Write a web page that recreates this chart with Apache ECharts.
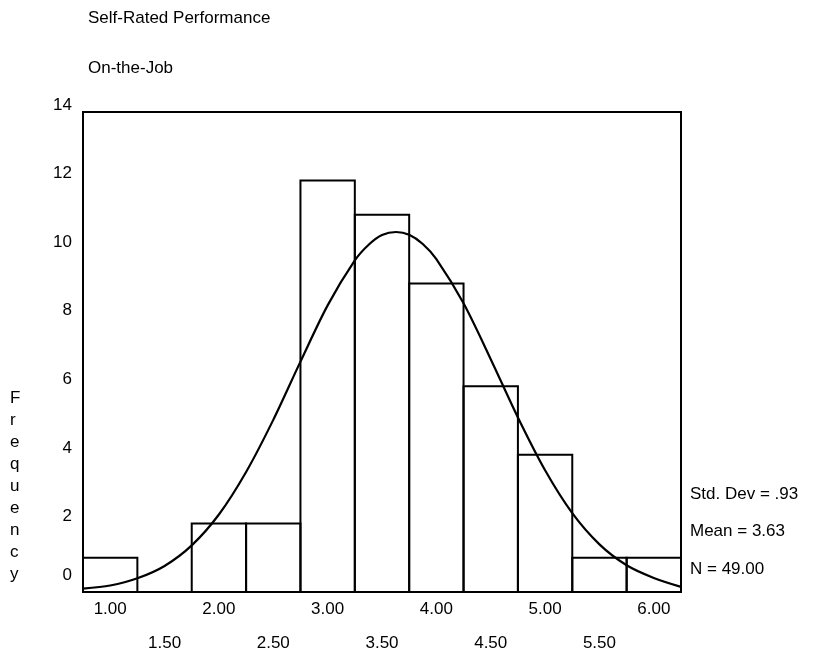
<!DOCTYPE html>
<html>
<head>
<meta charset="utf-8">
<script src="https://cdn.jsdelivr.net/npm/echarts@6/dist/echarts.min.js"></script>
<style>
  html, body { margin: 0; padding: 0; background: #fff; }
  #chart { width: 835px; height: 666px; }
</style>
</head>
<body>
<div id="chart"></div>
<script>
// histogram bins (midpoints) and counts
const binLabels = ["1.00", "1.50", "2.00", "2.50", "3.00", "3.50", "4.00", "4.50", "5.00", "5.50", "6.00"];
const counts = [1, 0, 2, 2, 12, 11, 9, 6, 4, 1, 1];

// fitted curve
const curveX = [0.75, 1.0, 1.25, 1.5, 1.75, 2.0, 2.25, 2.5, 2.75, 3.0, 3.25, 3.375, 3.5, 3.63, 3.75, 3.875, 4.0, 4.25, 4.5, 4.75, 5.0, 5.25, 5.5, 5.75, 6.0, 6.25];
const curveY = [0.1, 0.19, 0.4, 0.76, 1.36, 2.26, 3.5, 5.02, 6.72, 8.36, 9.67, 10.12, 10.41, 10.5, 10.42, 10.15, 9.71, 8.42, 6.79, 5.09, 3.55, 2.3, 1.39, 0.78, 0.41, 0.15];

const stats = ["Std. Dev = .93", "Mean = 3.63", "N = 49.00"];

const font = "'Liberation Sans', Arial, sans-serif";
const chart = echarts.init(document.getElementById("chart"));

chart.setOption({
  animation: false,
  textStyle: { fontFamily: font, color: "#000" },
  title: [
    { text: "Self-Rated Performance", left: 83, top: 5,
      textStyle: { fontSize: 17, fontWeight: "normal", color: "#000", fontFamily: font } },
    { text: "On-the-Job", left: 83, top: 55,
      textStyle: { fontSize: 17, fontWeight: "normal", color: "#000", fontFamily: font } },
  ],
  grid: {
    left: 83, right: 154, top: 112, bottom: 74,
    show: true, borderColor: "#000", borderWidth: 2, backgroundColor: "#fff",
  },
  xAxis: [
    {
      type: "category",
      data: binLabels,
      boundaryGap: true,
      axisLine: { lineStyle: { color: "#000", width: 2 } },
      axisTick: { show: false },
      axisLabel: {
        interval: 0,
        margin: 0,
        color: "#000",
        fontSize: 17,
        fontFamily: font,
        lineHeight: 34,
        formatter: (v, i) => (i % 2 ? "\n" + v : v),
      },
    },
    { type: "value", min: 0.75, max: 6.25, show: false },
  ],
  yAxis: {
    type: "value",
    min: 0,
    max: 14,
    interval: 2,
    axisLine: { show: true, lineStyle: { color: "#000", width: 2 } },
    axisTick: { show: false },
    splitLine: { show: false },
    axisLabel: {
      margin: 11,
      color: "#000",
      fontSize: 17,
      fontFamily: font,
      formatter: (v) => (v === 0 ? "{z|0}" : "{n|" + v + "}"),
      rich: {
        n: { fontSize: 17, fontFamily: font, color: "#000", padding: [0, 0, 14, 0] },
        z: { fontSize: 17, fontFamily: font, color: "#000", padding: [0, 0, 34, 0] },
      },
    },
  },
  series: [
    {
      // bins drawn edge to edge so neighbours share one outline
      type: "custom",
      data: counts.map((c, i) => [i, c]),
      silent: true,
      renderItem: (params, api) => {
        const top = api.coord([api.value(0), api.value(1)]);
        const base = api.coord([api.value(0), 0]);
        const w = api.size([1, 0])[0];
        return {
          type: "rect",
          shape: { x: top[0] - w / 2, y: top[1], width: w, height: base[1] - top[1] },
          style: { fill: "none", stroke: "#000", lineWidth: 2 },
        };
      },
    },
    {
      type: "line",
      xAxisIndex: 1,
      data: curveX.map((x, i) => [x, curveY[i]]),
      smooth: 0.3,
      showSymbol: false,
      lineStyle: { color: "#000", width: 2.2 },
      silent: true,
    },
  ],
  graphic: [
    {
      type: "text", left: 10, top: 387,
      style: { text: "Frequency".split("").join("\n"), fontSize: 17, lineHeight: 22,
               fontFamily: font, fill: "#000", align: "center" },
    },
    ...stats.map((s, i) => ({
      type: "text", left: 690, top: [486, 523, 561][i],
      style: { text: s, fontSize: 17, fontFamily: font, fill: "#000" },
    })),
  ],
});
</script>
</body>
</html>
